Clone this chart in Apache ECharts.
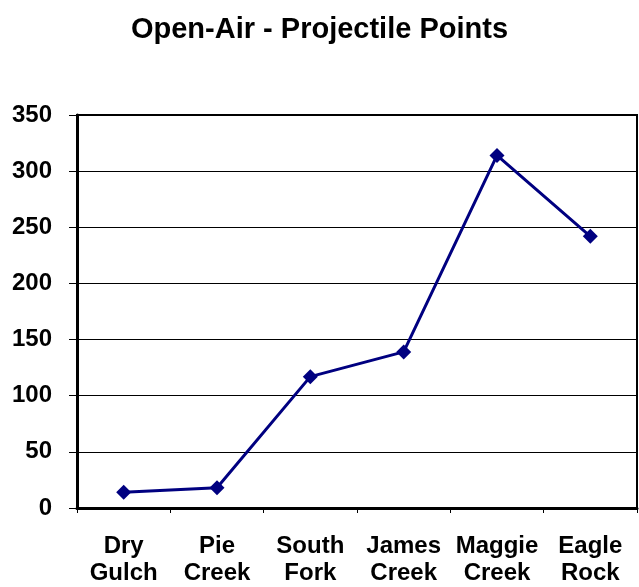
<!DOCTYPE html>
<html>
<head>
<meta charset="utf-8">
<title>Open-Air - Projectile Points</title>
<script src="https://cdn.jsdelivr.net/npm/echarts@6/dist/echarts.min.js"></script>
<style>
  html, body { margin: 0; padding: 0; background: #ffffff; }
  #chart { width: 639px; height: 587px; }
</style>
</head>
<body>
<div id="chart"></div>
<script>
// Site names (two-line labels) and projectile point counts
const sites = ['Dry\nGulch', 'Pie\nCreek', 'South\nFork', 'James\nCreek', 'Maggie\nCreek', 'Eagle\nRock'];
const pointCounts = [14, 18, 117, 139, 314, 242];
const yTicks = [0, 50, 100, 150, 200, 250, 300, 350];

const chart = echarts.init(document.getElementById('chart'));
const font = '"Liberation Sans", Arial, sans-serif';

chart.setOption({
  backgroundColor: '#ffffff',
  animation: false,
  title: {
    text: 'Open-Air - Projectile Points',
    left: 'center',
    top: 10,
    textStyle: { fontFamily: font, fontWeight: 'bold', fontSize: 29, color: '#000000' }
  },
  grid: {
    left: 77, right: 2, top: 115, bottom: 78,
    show: true, borderColor: '#000000', borderWidth: 2, backgroundColor: '#ffffff'
  },
  xAxis: {
    type: 'category',
    data: sites,
    boundaryGap: true,
    axisLine: { show: true, lineStyle: { color: '#000000', width: 3 } },
    axisTick: { show: true, length: 5, lineStyle: { color: '#000000', width: 1 } },
    axisLabel: {
      interval: 0, margin: 25, color: '#000000',
      fontFamily: font, fontWeight: 'bold', fontSize: 24, lineHeight: 27
    },
    splitLine: { show: false }
  },
  yAxis: {
    type: 'value',
    min: yTicks[0],
    max: yTicks[yTicks.length - 1],
    interval: 50,
    axisLine: { show: true, lineStyle: { color: '#000000', width: 3 } },
    axisTick: { show: true, length: 8, lineStyle: { color: '#000000', width: 1 } },
    axisLabel: {
      margin: 25, color: '#000000',
      fontFamily: font, fontWeight: 'bold', fontSize: 24
    },
    splitLine: { show: true, lineStyle: { color: '#000000', width: 1 } }
  },
  series: [{
    type: 'line',
    data: pointCounts,
    symbol: 'diamond',
    symbolSize: 15,
    itemStyle: { color: '#000080' },
    lineStyle: { color: '#000080', width: 3 }
  }]
});
</script>
</body>
</html>
